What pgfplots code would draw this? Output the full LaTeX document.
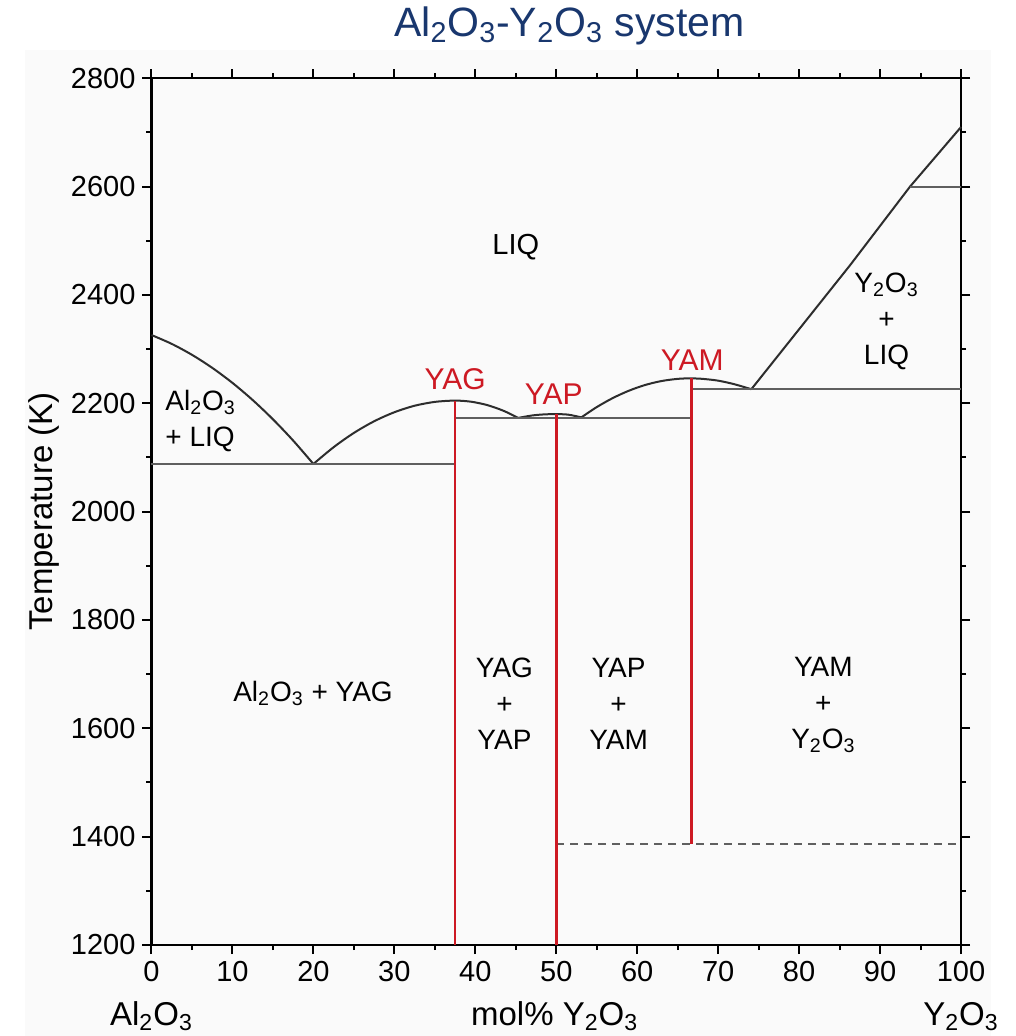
\documentclass[border=0pt]{standalone}
\usepackage{fontspec}
\setmainfont{Liberation Sans}
\usepackage{pgfplots}
\pgfplotsset{compat=1.18}
\definecolor{curve}{RGB}{45,45,45}
\definecolor{hline}{RGB}{95,95,95}
\definecolor{pred}{RGB}{205,25,35}
\definecolor{tblue}{RGB}{25,55,110}
\definecolor{panel}{RGB}{250,250,250}
\begin{document}
\begin{tikzpicture}
\path[use as bounding box] (-75.75pt,-45.5pt) rectangle (431.75pt,472.5pt);
\fill[panel] (-63pt,-45.5pt) rectangle (419.5pt,447.5pt);
\begin{axis}[
  scale only axis, width=404.75pt, height=433.35pt,
  xmin=0, xmax=100, ymin=1200, ymax=2800,
  xtick={0,10,...,100}, ytick={1200,1400,...,2800},
  minor x tick num=1, minor y tick num=1,
  tick align=outside,
  major tick length=4.5pt, minor tick length=2.5pt,
  axis line style={line width=1.2pt},
  every tick/.style={black, line width=1pt},
  tick label style={font=\fontsize{14.5}{16}\selectfont},
  /pgf/number format/assume math mode=true,
  /pgf/number format/1000 sep={},
  clip=false,
  axis background/.style={fill=panel},
]
% phase boundaries (liquidus)
\addplot[curve, line width=1pt, smooth, tension=0.5] coordinates {(0,2326)(2.5,2309.7)(5,2289.5)(7.5,2265.5)(10,2237.7)(12.5,2206)(15,2170.5)(17.5,2131.2)(20,2088)};
\addplot[curve, line width=1pt, smooth, tension=0.5] coordinates {(20,2088)(22.5,2119)(25,2145.3)(27.5,2166.8)(30,2183.5)(32.5,2195.5)(35,2202.6)(37.5,2205)(39.5,2202.9)(41.5,2196.6)(43.5,2186.1)(45.3,2173)};
\addplot[curve, line width=1pt, smooth, tension=0.5] coordinates {(45.3,2173)(47,2177.5)(48.5,2179.5)(50,2180)(51.5,2179)(53.1,2174)};
\addplot[curve, line width=1pt, smooth, tension=0.5] coordinates {(53.1,2174)(55,2193)(57,2209.8)(59,2223.4)(61,2233.9)(63,2241.1)(65,2245.1)(66.5,2246)(68,2245.2)(70,2241.8)(72,2235.2)(74.1,2226)};
\addplot[curve, line width=1pt] coordinates {(74.1,2226)(86.3,2455)(93.7,2600)(100,2710)};
% horizontal lines
\addplot[hline, line width=0.9pt] coordinates {(0,2088)(37.5,2088)};
\addplot[hline, line width=0.9pt] coordinates {(37.5,2173)(66.7,2173)};
\addplot[hline, line width=0.9pt] coordinates {(66.7,2226)(100,2226)};
\addplot[hline, line width=0.9pt] coordinates {(93.7,2600)(100,2600)};
\addplot[hline, line width=0.9pt, dash pattern=on 4pt off 3pt] coordinates {(50,1387)(100,1387)};
% compounds
\addplot[pred, line width=1.4pt] coordinates {(37.5,1200)(37.5,2205)};
\addplot[pred, line width=1.4pt] coordinates {(50,1200)(50,2180)};
\addplot[pred, line width=1.4pt] coordinates {(66.7,1387)(66.7,2246)};
% region labels
\begin{scope}[font=\fontsize{14}{18}\selectfont, inner sep=0pt]
\node at (axis cs:45,2489) {\fontsize{14.5}{18}\selectfont LIQ};
\node[anchor=west, align=left] at (axis cs:1.67,2168) {Al\textsubscript{2}O\textsubscript{3}\\+ LIQ};
\node[align=center] at (axis cs:90.8,2352) {Y\textsubscript{2}O\textsubscript{3}\\+\\LIQ};
\node at (axis cs:19.95,1664) {Al\textsubscript{2}O\textsubscript{3} + YAG};
\node[align=center] at (axis cs:43.6,1646) {YAG\\+\\YAP};
\node[align=center] at (axis cs:57.7,1646) {YAP\\+\\YAM};
\node[align=center] at (axis cs:83,1643) {YAM\\+\\Y\textsubscript{2}O\textsubscript{3}};
\end{scope}
\begin{scope}[font=\fontsize{15}{18}\selectfont, text=pred, inner sep=0pt]
\node at (axis cs:37.5,2245) {YAG};
\node at (axis cs:49.7,2217) {YAP};
\node at (axis cs:66.8,2279) {YAM};
\end{scope}
% axis labels
\begin{scope}[font=\fontsize{16.5}{19}\selectfont, inner sep=0pt]
\node[rotate=90] at (axis cs:-13.34,2000) {Temperature (K)};
\node[anchor=base] at (axis cs:49.8,1052) {mol\% Y\textsubscript{2}O\textsubscript{3}};
\node[anchor=base] at (axis cs:0,1052) {Al\textsubscript{2}O\textsubscript{3}};
\node[anchor=base] at (axis cs:100,1052) {Y\textsubscript{2}O\textsubscript{3}};
\end{scope}
% title
\node[anchor=base, inner sep=0pt, text=tblue, font=\fontsize{20.5}{24}\selectfont] at (axis cs:51.6,2876.8) {Al\textsubscript{2}O\textsubscript{3}-Y\textsubscript{2}O\textsubscript{3} system};
\end{axis}
\end{tikzpicture}
\end{document}
